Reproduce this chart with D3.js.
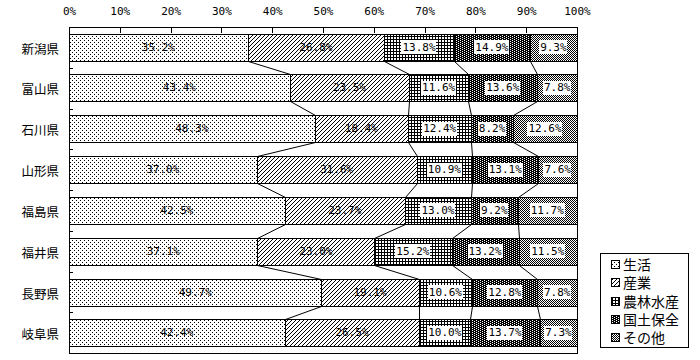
<!DOCTYPE html>
<html><head><meta charset="utf-8">
<script src="https://cdn.jsdelivr.net/npm/d3@7"></script>
<style>
html,body{margin:0;padding:0;background:#fff;}
svg{display:block;}
</style></head>
<body>
<svg id="chart" width="700" height="360"></svg>
<script>
const categories = ["新潟県","富山県","石川県","山形県","福島県","福井県","長野県","岐阜県"];
const seriesNames = ["生活","産業","農林水産","国土保全","その他"];
const seikatsu = [35.2,43.4,48.3,37.0,42.5,37.1,49.7,42.4];
const sangyo   = [26.8,23.5,18.4,31.6,23.7,23.0,19.1,26.5];
const norin    = [13.8,11.6,12.4,10.9,13.0,15.2,10.6,10.0];
const kokudo   = [14.9,13.6, 8.2,13.1, 9.2,13.2,12.8,13.7];
const sonota   = [ 9.3, 7.8,12.6, 7.6,11.7,11.5, 7.8, 7.3];
const tickValues = [0,10,20,30,40,50,60,70,80,90,100];

(function(){
const seriesValues = [seikatsu, sangyo, norin, kokudo, sonota];

const svg = d3.select("#chart");
const pLeft = 69, pRight = 577, pTop = 27, pBottom = 353;

// patterns
const defs = svg.append("defs");
function pat(id, w, h, bg, pixels, fg) {
  const p = defs.append("pattern").attr("id", id).attr("patternUnits","userSpaceOnUse")
    .attr("width", w).attr("height", h);
  p.append("rect").attr("width", w).attr("height", h).attr("fill", bg);
  pixels.forEach(([px,py]) => p.append("rect").attr("x",px).attr("y",py).attr("width",1).attr("height",1).attr("fill",fg));
  return p;
}
pat("p0", 4, 4, "#fff", [[0,0],[2,2]], "#000");
pat("p1", 4, 4, "#fff", [[3,0],[2,1],[1,2],[0,3]], "#000");
(function(){
  const p = defs.append("pattern").attr("id","p2").attr("patternUnits","userSpaceOnUse").attr("width",3).attr("height",3);
  p.append("rect").attr("width",3).attr("height",3).attr("fill","#fff");
  p.append("rect").attr("x",0).attr("y",0).attr("width",3).attr("height",1).attr("fill","#000");
  p.append("rect").attr("x",0).attr("y",0).attr("width",1).attr("height",3).attr("fill","#000");
})();
pat("p3", 4, 2, "#000", [[0,0],[2,1]], "#fff");
pat("p4", 2, 2, "#fff", [[0,0],[1,1]], "#000");
const fills = ["url(#p0)","url(#p1)","url(#p2)","url(#p3)","url(#p4)"];

const x = d3.scaleLinear().domain([0,100]).range([pLeft, pRight]);
const y = d3.scaleBand().domain(categories).range([pTop, pBottom]).paddingInner(0.337).paddingOuter(0.16);

// stacked (100% normalized)
const rows = categories.map((c,i) => {
  const vals = seriesValues.map(s => s[i]);
  const total = d3.sum(vals);
  let cum = 0;
  return vals.map((v,k) => {
    const x0 = cum / total * 100; cum += v; const x1 = cum / total * 100;
    return {cat: c, k, v, x0, x1};
  });
});

const g = svg.append("g").attr("shape-rendering","crispEdges");

// frame
g.append("rect").attr("x", pLeft+0.5).attr("y", pTop+0.5).attr("width", pRight-pLeft).attr("height", pBottom-pTop)
  .attr("fill","none").attr("stroke","#000");

// top axis ticks (inward)
const ax = d3.axisTop(x).tickValues(tickValues).tickFormat(d => d + "%").tickSizeInner(-5).tickSizeOuter(0).tickPadding(13);
const axG = svg.append("g").attr("transform", `translate(0,${pTop+0.5})`).call(ax);
axG.select(".domain").remove();
axG.selectAll("line").attr("stroke","#000").attr("shape-rendering","crispEdges");
axG.selectAll("text").attr("font-family","'DejaVu Sans Mono', monospace").attr("font-size", 11).attr("fill","#000");

// left category ticks at band boundaries (inward)
categories.slice(1).forEach((c,i) => {
  const yy = Math.round(pTop + (i+1) * (pBottom-pTop)/categories.length) + 0.5;
  g.append("line").attr("x1", pLeft).attr("x2", pLeft+4).attr("y1", yy).attr("y2", yy).attr("stroke","#000");
});

// category labels
svg.append("g").selectAll("text").data(categories).join("text")
  .attr("x", 59).attr("y", d => y(d) + y.bandwidth()/2 + 1)
  .attr("text-anchor","end").attr("dominant-baseline","central")
  .attr("font-family","'Noto Sans CJK JP', sans-serif").attr("font-size", 12.5).attr("fill","#000")
  .text(d => d);

// bars
rows.forEach(r => {
  g.selectAll(null).data(r).join("rect")
    .attr("x", d => Math.round(x(d.x0)) + 0.5)
    .attr("y", d => Math.round(y(d.cat)) + 0.5)
    .attr("width", d => Math.round(x(d.x1)) - Math.round(x(d.x0)))
    .attr("height", Math.round(y.bandwidth()))
    .attr("fill", d => fills[d.k]).attr("stroke","#000");
});

// connector lines
for (let i = 0; i < categories.length - 1; i++) {
  for (let k = 0; k < 4; k++) {
    const a = rows[i][k], b = rows[i+1][k];
    svg.append("line")
      .attr("x1", Math.round(x(a.x1)) + 0.5).attr("y1", Math.round(y(a.cat)) + Math.round(y.bandwidth()) + 0.5)
      .attr("x2", Math.round(x(b.x1)) + 0.5).attr("y2", Math.round(y(b.cat)) + 0.5)
      .attr("stroke","#000").attr("stroke-width",1);
  }
}

// value labels
const lbl = svg.append("g");
rows.forEach(r => {
  r.forEach(d => {
    const cx = (x(d.x0) + x(d.x1)) / 2;
    const cy = y(d.cat) + y.bandwidth()/2;
    const t = d.v.toFixed(1) + "%";
    const tw = t.length * 6.62;
    if (d.k >= 2) {
      lbl.append("rect").attr("x", Math.round(cx - tw/2 - 1)).attr("y", Math.round(cy - 7))
        .attr("width", Math.round(tw + 2)).attr("height", 14).attr("fill","#fff");
    }
    lbl.append("text").attr("x", cx).attr("y", cy).attr("text-anchor","middle").attr("dominant-baseline","central")
      .attr("font-family","'DejaVu Sans Mono', monospace").attr("font-size", 11).attr("fill","#000").text(t);
  });
});

// legend
const lg = svg.append("g");
lg.append("rect").attr("x", 600.5).attr("y", 253.5).attr("width", 88).attr("height", 94)
  .attr("fill","#fff").attr("stroke","#000").attr("shape-rendering","crispEdges");
seriesNames.forEach((n,k) => {
  const yy = 264 + k * 18.3;
  lg.append("rect").attr("x", 611.5).attr("y", Math.round(yy - 4) + 0.5).attr("width", 8).attr("height", 8)
    .attr("fill", fills[k]).attr("stroke","#000").attr("shape-rendering","crispEdges");
  lg.append("text").attr("x", 623).attr("y", yy).attr("dominant-baseline","central")
    .attr("font-family","'Noto Sans CJK JP', sans-serif").attr("font-size", 14).attr("fill","#000").text(n);
});
})();
</script>
</body></html>
